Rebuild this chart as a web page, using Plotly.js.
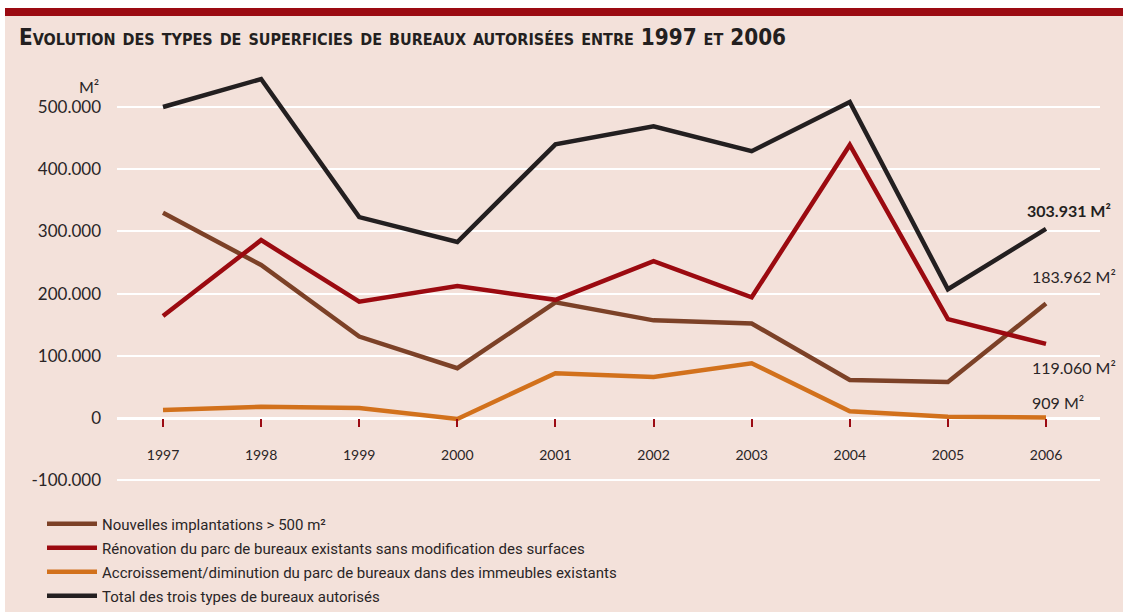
<!DOCTYPE html>
<html>
<head>
<meta charset="utf-8">
<script src="https://cdn.plot.ly/plotly-3.0.1.min.js"></script>
<style>
  html, body { margin:0; padding:0; background:#ffffff; }
  #panel { position:absolute; left:5px; top:16px; width:1118px; height:596px; background:#f3e1da; }
  #bar { position:absolute; left:5px; top:8px; width:1118px; height:8px; background:#9b0a12; }
  #chart { position:absolute; left:0; top:0; width:1123px; height:612px; }
</style>
</head>
<body>
<div id="panel"></div>
<div id="bar"></div>
<div id="chart"></div>
<script>
const years = [1997, 1998, 1999, 2000, 2001, 2002, 2003, 2004, 2005, 2006];
const nouvelles   = [330000, 246000, 131000, 80000, 186000, 157000, 152000, 61000, 58000, 183962];
const renovation  = [164000, 286000, 187000, 212000, 190000, 252000, 194000, 439000, 159000, 119060];
const accroissement = [13000, 18000, 16000, -1500, 72000, 66000, 88000, 11000, 2000, 909];
const total       = [500000, 545000, 323000, 283000, 440000, 469000, 429000, 508000, 207000, 303931];

const seriesNames = [
  "Nouvelles implantations > 500 m²",
  "Rénovation du parc de bureaux existants sans modification des surfaces",
  "Accroissement/diminution du parc de bureaux dans des immeubles existants",
  "Total des trois types de bureaux autorisés"
];
const seriesColors = ["#7c4127", "#9b0a10", "#d2711c", "#231f20"];
const yTickVals = [-100000, 0, 100000, 200000, 300000, 400000, 500000];
const yTickText = ["-100.000", "0", "100.000", "200.000", "300.000", "400.000", "500.000"];

function fmt(v) {
  return String(v).replace(/\B(?=(\d{3})+(?!\d))/g, ".");
}

const seriesData = [nouvelles, renovation, accroissement, total];
const legendIds = ["legend", "legend2", "legend3", "legend4"];

// plot area geometry
const W = 1123, H = 612;
const mT = 60, mB = 122, mL = 117, mR = 23;
const plotH = H - mT - mB;
const pxPerUnit = 0.000622;
const zeroPx = 418;
const yHigh = (zeroPx - mT) / pxPerUnit;
const yLow = -((H - mB) - zeroPx) / pxPerUnit;
const pxPerYear = 98.11;
const xLow = 1997 - (163 - mL) / pxPerYear;
const xHigh = 2006 + ((W - mR) - 1046) / pxPerYear;
function paperY(px) { return ((H - mB) - px) / plotH; }
function paperX(px) { return (px - mL) / (W - mL - mR); }

const traces = seriesData.map((vals, i) => ({
  type: "scatter",
  mode: "lines",
  x: years,
  y: vals,
  name: seriesNames[i],
  legend: legendIds[i],
  line: { color: seriesColors[i], width: 4.5 },
  hoverinfo: "skip"
}));
// draw order: orange, brown, red, black
const drawOrder = [2, 0, 1, 3];
const data = drawOrder.map(i => traces[i]);

const legendRows = [524, 548, 572, 596];
const legendFont = { family: "Roboto, 'Open Sans', sans-serif", size: 15, color: "#2a2526" };
const numFont = "Lato, sans-serif";
const layout = {
  width: W, height: H,
  margin: { t: mT, b: mB, l: mL, r: mR, pad: 0, autoexpand: false },
  paper_bgcolor: "rgba(0,0,0,0)",
  plot_bgcolor: "rgba(0,0,0,0)",
  showlegend: true,
  title: {
    text: "Evolution des types de superficies de bureaux autorisées entre 1997 et 2006",
    xref: "container", yref: "container",
    x: 19 / W, xanchor: "left",
    y: 1 - 37 / H, yanchor: "middle",
    font: { family: "'Liberation Sans Narrow', 'DejaVu Sans Condensed', sans-serif", size: 22.3, weight: "bold", variant: "small-caps", color: "#231f20" }
  },
  xaxis: {
    range: [xLow, xHigh],
    anchor: "free",
    position: (0 - yLow) / (yHigh - yLow),
    showgrid: false, zeroline: false, showline: false,
    tickvals: years, ticktext: years.map(String),
    ticks: "outside", ticklen: 8, tickwidth: 2, tickcolor: "#9b0a12",
    ticklabelstandoff: 16,
    tickfont: { family: numFont, size: 14, color: "#2a2526" },
    fixedrange: true
  },
  yaxis: {
    range: [yLow, yHigh],
    tickvals: yTickVals, ticktext: yTickText,
    showgrid: true, gridcolor: "#ffffff", gridwidth: 2,
    zeroline: true, zerolinecolor: "#ffffff", zerolinewidth: 3,
    showline: false, ticks: "",
    ticklabelstandoff: 15,
    tickfont: { family: numFont, size: 17, color: "#2a2526" },
    fixedrange: true
  },
  annotations: [
    { text: "M²", xref: "paper", yref: "paper", x: paperX(101), y: paperY(87), xanchor: "right", yanchor: "middle", showarrow: false,
      font: { family: numFont, size: 16, color: "#2a2526" } },
    { text: "<b>" + fmt(total[9]) + " M²</b>", x: years[9], y: total[9], xref: "x", yref: "y", xanchor: "left", yanchor: "middle",
      xshift: -21, yshift: 18, showarrow: false, font: { family: numFont, size: 16, color: "#231f20" } },
    { text: fmt(nouvelles[9]) + " M²", x: years[9], y: nouvelles[9], xref: "x", yref: "y", xanchor: "left", yanchor: "middle",
      xshift: -16, yshift: 27, showarrow: false, font: { family: numFont, size: 16, color: "#2a2526" } },
    { text: fmt(renovation[9]) + " M²", x: years[9], y: renovation[9], xref: "x", yref: "y", xanchor: "left", yanchor: "middle",
      xshift: -16, yshift: -24, showarrow: false, font: { family: numFont, size: 16, color: "#2a2526" } },
    { text: fmt(accroissement[9]) + " M²", x: years[9], y: accroissement[9], xref: "x", yref: "y", xanchor: "left", yanchor: "middle",
      xshift: -16, yshift: 15, showarrow: false, font: { family: numFont, size: 16, color: "#2a2526" } }
  ]
};
legendIds.forEach((id, i) => {
  layout[id] = {
    x: paperX(42), xanchor: "left",
    y: paperY(legendRows[i]), yanchor: "middle",
    bgcolor: "rgba(0,0,0,0)", borderwidth: 0,
    font: legendFont, itemwidth: 50
  };
});

Plotly.newPlot("chart", data, layout, { displayModeBar: false, staticPlot: true });
</script>
</body>
</html>
